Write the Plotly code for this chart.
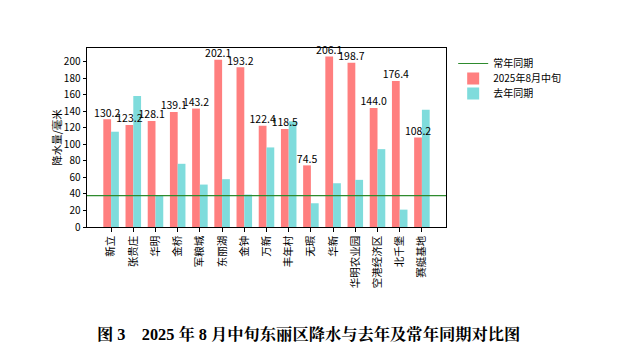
import plotly.graph_objects as go

stations = ["新立", "张贵庄", "华明", "金桥", "军粮城", "东丽湖", "金钟", "万新",
            "丰年村", "无瑕", "华新", "华明农业园", "空港经济区", "北千堡", "赛艇基地"]
rain_2025 = [130.2, 123.2, 128.1, 139.1, 143.2, 202.1, 193.2, 122.4,
             118.5, 74.5, 206.1, 198.7, 144.0, 176.4, 108.2]
rain_last_year = [115.2, 158.4, 37.8, 76.4, 51.3, 57.8, 39.2, 96.2,
                  127.7, 28.7, 52.9, 57.0, 94.1, 21.0, 141.8]
normal_value = 38.0
y_ticks = list(range(0, 201, 20))

FONT = "Noto Sans CJK SC, DejaVu Sans, sans-serif"
pos = list(range(len(stations)))
xr = [-1.085, len(stations) - 1 + 1.085]
bar_w = 0.35

fig = go.Figure()
fig.add_trace(go.Bar(
    x=pos, y=rain_2025, name="2025年8月中旬", marker_color="#FF7F7F",
    marker_line_width=0, legend="legend2",
))
fig.add_trace(go.Bar(
    x=pos, y=rain_last_year, name="去年同期", marker_color="#7FDCDC",
    marker_line_width=0, legend="legend3",
))
fig.add_trace(go.Scatter(
    x=xr, y=[normal_value, normal_value], mode="lines", name="常年同期",
    line=dict(color="#2E8B2E", width=1.2), legend="legend",
))
fig.add_trace(go.Scatter(
    x=[p - bar_w / 2 for p in pos], y=rain_2025, mode="text",
    text=[f"{v:.1f}" for v in rain_2025], textposition="top center",
    textfont=dict(family=FONT, size=10.5, color="black"),
    cliponaxis=False, showlegend=False, hoverinfo="skip",
))

# page body has an 8px margin, so the figure is 612x349 placed at (8, 8)
def leg(ytop_px):
    return dict(x=1.02, y=1 - (ytop_px - 48) / 179, xanchor="left", yanchor="top",
                font=dict(family=FONT, size=10), bgcolor="rgba(0,0,0,0)",
                itemwidth=30)

fig.update_layout(
    width=612, height=349,
    margin=dict(l=79, r=174, t=40, b=130, autoexpand=False),
    plot_bgcolor="white", paper_bgcolor="white",
    barmode="group", bargap=0.3, bargroupgap=0,
    font=dict(family=FONT, size=10, color="black"),
    showlegend=True,
    legend=leg(49), legend2=leg(64), legend3=leg(79),
    xaxis=dict(range=xr, tickmode="array", tickvals=pos, ticktext=stations,
               tickangle=-90, showline=True, linecolor="black", linewidth=1,
               mirror=True, ticks="outside", ticklen=3.5, tickcolor="black",
               showgrid=False, zeroline=False, tickfont=dict(size=10.5),
               automargin=False),
    yaxis=dict(range=[0, 216.4], tickmode="array", tickvals=y_ticks,
               showline=True, linecolor="black", linewidth=1, mirror=True,
               ticks="outside", ticklen=3.5, tickcolor="black", showgrid=False,
               zeroline=False, tickfont=dict(size=10), automargin=False,
               title=dict(text="降水量/毫米", font=dict(size=10.5), standoff=0)),
    annotations=[dict(
        text="<b>图 3　2025 年 8 月中旬东丽区降水与去年及常年同期对比图</b>",
        xref="paper", yref="paper", x=(308 - 87) / 359, y=(227 - 334) / 179,
        xanchor="center", yanchor="middle", showarrow=False,
        font=dict(family="Liberation Serif, Noto Serif CJK SC, Noto Sans CJK SC, serif",
                  size=16.3, color="black"),
    )],
)

fig.write_html("out.html")
